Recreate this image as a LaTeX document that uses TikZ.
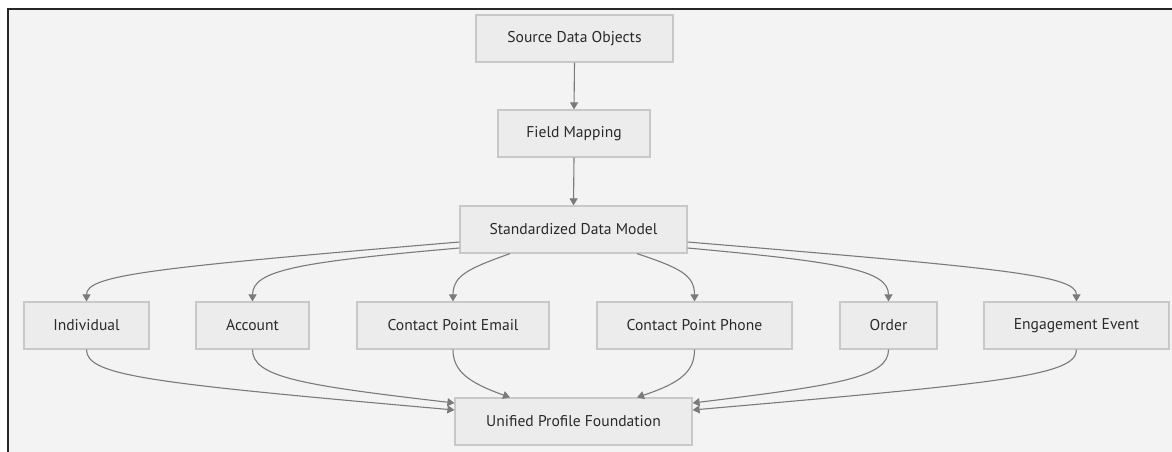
\documentclass[tikz,border=0pt]{standalone}
\usepackage{fontspec}
\setmainfont{PT Sans}
\usetikzlibrary{arrows.meta}
\definecolor{bgc}{HTML}{F3F3F3}
\definecolor{boxfill}{HTML}{ECECEC}
\definecolor{boxline}{HTML}{C8C8C8}
\definecolor{edgec}{HTML}{7A7A7A}
\definecolor{txt}{HTML}{2A2A2A}
\begin{document}
\begin{tikzpicture}[x=1pt,y=-1pt,
  box/.style={draw=boxline,fill=boxfill,line width=1.2pt,minimum height=47pt,inner sep=0pt,
    text=txt,font=\fontsize{15.6}{18}\selectfont,anchor=center},
  conn/.style={draw=edgec,line width=1.1pt,-{Triangle[width=8pt,length=7pt]}}]
\useasboundingbox (0,0) rectangle (1172,452);
\fill[white] (0,0) rectangle (1172,452);
\fill[bgc] (8,9) rectangle (1172,452);
\draw[black!85,line width=1.6pt] (8,452) -- (8,9) -- (1172,9);
% nodes
\node[box,minimum width=197pt] (src) at (574.5,38.5) {Source Data Objects};
\node[box,minimum width=152pt] (fm) at (574,133.5) {Field Mapping};
\node[box,minimum width=227pt] (sdm) at (573.5,229.5) {Standardized Data Model};
\node[box,minimum width=125pt] (ind) at (86.5,325.5) {Individual};
\node[box,minimum width=113pt] (acc) at (252.5,325.5) {Account};
\node[box,minimum width=192pt] (cpe) at (453,325.5) {Contact Point Email};
\node[box,minimum width=195pt] (cpp) at (694.5,325.5) {Contact Point Phone};
\node[box,minimum width=97pt] (ord) at (888.5,325.5) {Order};
\node[box,minimum width=185pt] (eng) at (1076.5,325.5) {Engagement Event};
\node[box,minimum width=237pt] (upf) at (573.5,421.5) {Unified Profile Foundation};
% straight connectors
\draw[conn] (src.south) -- (fm.north);
\draw[conn] (fm.south) -- (sdm.north);
% fan out
\draw[conn] (sdm.west |- 0,242) .. controls (150,268) and (86.5,275) .. (ind.north);
\draw[conn] (sdm.west |- 0,248) .. controls (300,262) and (252.5,270) .. (acc.north);
\draw[conn] (sdm.south -| 510,0) .. controls (470,268) and (453,275) .. (cpe.north);
\draw[conn] (sdm.south -| 637,0) .. controls (680,268) and (694.5,275) .. (cpp.north);
\draw[conn] (sdm.east |- 0,248) .. controls (840,262) and (888.5,270) .. (ord.north);
\draw[conn] (sdm.east |- 0,242) .. controls (1000,268) and (1076.5,275) .. (eng.north);
% fan in
\draw[conn] (ind.south) .. controls (86.5,376) and (150,383) .. (upf.west |- 0,410);
\draw[conn] (acc.south) .. controls (252.5,377) and (300,385) .. (upf.west |- 0,403);
\draw[conn] (cpe.south) .. controls (453,372) and (470,383) .. (upf.north -| 510,0);
\draw[conn] (cpp.south) .. controls (694.5,372) and (680,383) .. (upf.north -| 637,0);
\draw[conn] (ord.south) .. controls (888.5,377) and (840,385) .. (upf.east |- 0,403);
\draw[conn] (eng.south) .. controls (1076.5,376) and (1000,383) .. (upf.east |- 0,410);
\end{tikzpicture}
\end{document}
